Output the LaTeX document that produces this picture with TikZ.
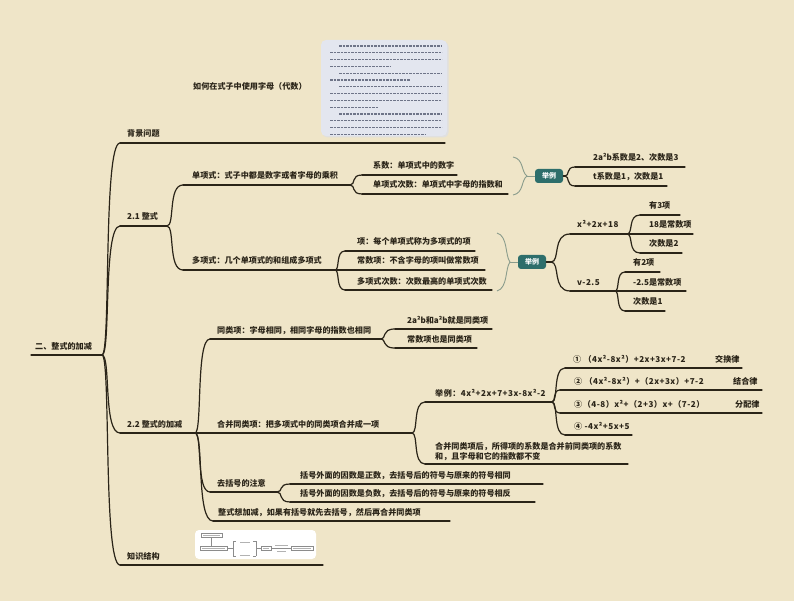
\documentclass[tikz,border=0pt]{standalone}
\usepackage{fontspec}
\setmainfont{Noto Sans CJK SC}
\usetikzlibrary{calc}
\definecolor{bgc}{HTML}{EFE5C8}
\definecolor{lnc}{HTML}{2A2418}
\definecolor{tealc}{HTML}{2D6E6B}
\definecolor{bracec}{HTML}{8A9C8C}
\definecolor{notec}{HTML}{E3E6EF}
\definecolor{notet}{HTML}{6E7488}
\tikzset{
  mmline/.style={draw=lnc,line width=1.2pt,line cap=round},
  mmtext/.style={anchor=base west,inner sep=0pt,text=lnc,font=\fontsize{8.1}{10}\selectfont\bfseries},
  mmform/.style={mmtext,font=\fontsize{8.1}{10}\selectfont\bfseries\addfontfeatures{LetterSpace=6}},
  exbox/.style={fill=tealc,text=white,rounded corners=3pt,minimum width=28pt,minimum height=14pt,inner sep=0pt,font=\fontsize{7}{8}\selectfont\bfseries},
  bracel/.style={draw=bracec,line width=0.9pt},
  notel/.style={draw=notet,line width=1.3pt,dash pattern=on 2.8pt off 0.7pt},
}
\newcommand\mmT[7][mmtext]{%
  \coordinate (#2-l) at (#3,#5);
  \coordinate (#2-r) at (#4,#5);
  \draw[mmline] (#2-l) -- (#2-r);
  \node[#1] (#2) at (#6,#5-6) {#7};}
\newcommand\mmL[2]{%
  \draw[mmline] let \p1=(#1), \p2=(#2) in
    (\p1) .. controls (\x1+0.5*\x2-0.5*\x1,\y1) and (\x1+0.05*\x2-0.05*\x1,\y2) .. (\p2);}
\begin{document}
\begin{tikzpicture}[x=1pt,y=-1pt]
\fill[bgc] (0,0) rectangle (794,601);
\useasboundingbox (0,0) rectangle (794,601);

% note image
\fill[black!12,rounded corners=5pt] (322.5,41.5) rectangle (448.5,137.5);
\fill[notec,rounded corners=5pt] (321,40) rectangle (447,136);
\foreach \r/\a/\b in {0/339/442,1/330/442,2/330/442,3/330/390,4/339/442,5/330/410,6/339/442,7/330/442,8/330/442,9/330/378,10/339/442,11/330/442,12/330/442,13/330/425}
  \draw[notel] (\a,46+6.8*\r) -- (\b,46+6.8*\r);

% structure image
\fill[white,rounded corners=4pt] (195,530) rectangle (316,559);
\begin{scope}[draw=black!45,line width=0.4pt]
  \draw (201,533.5) rectangle (222,537.5);
  \draw (211,537.5) -- (211,546);
  \draw (200,546) rectangle (227,550);
  \draw (227,548) -- (233,548);
  \draw (233,541) -- (233,556) (233,541) -- (236,541) (233,556) -- (236,556);
  \draw (256,541) -- (256,556) (256,541) -- (253,541) (256,556) -- (253,556);
  \draw (256,548) -- (261,548);
  \draw (261,546) rectangle (271,550);
  \draw (271,548) -- (291,548);
  \draw (291,546) rectangle (313,550);
\end{scope}
\begin{scope}[draw=black!30,line width=0.8pt]
  \draw (203,535.5) -- (220,535.5);
  \draw (202,548) -- (225,548);
  \draw (240,542) -- (250,542) (240,555) -- (250,555);
  \draw (263,548) -- (269,548);
  \draw (275,545.5) -- (288,545.5) (277,551) -- (286,551);
  \draw (293,548) -- (311,548);
\end{scope}

% root and level 1
\mmT{root}{31}{102}{355}{35}{二、整式的加减}
\mmT{bg}{120}{445}{143}{127}{背景问题}
\coordinate (bgc-l) at (188,143);
\node[mmtext] (bgc) at (193,90) {如何在式子中使用字母（代数）};
\mmT{s21}{120}{167}{226}{127}{2.1 整式}
\mmT{s22}{120}{195}{433}{127}{2.2 整式的加减}
\mmT{zj}{120}{323}{565}{127}{知识结构}
\mmL{root-r}{bg-l}
\mmL{root-r}{s21-l}
\mmL{root-r}{s22-l}
\mmL{root-r}{zj-l}

% 2.1
\mmT{dan}{183}{350}{185}{192}{单项式：式子中都是数字或者字母的乘积}
\mmT{duo}{183}{335}{270}{192}{多项式：几个单项式的和组成多项式}
\mmL{s21-r}{dan-l}
\mmL{s21-r}{duo-l}
\mmT{xs}{362}{457}{175}{373}{系数：单项式中的数字}
\mmT{cs}{362}{508}{194}{373}{单项式次数：单项式中字母的指数和}
\mmL{dan-r}{xs-l}
\mmL{dan-r}{cs-l}
\mmT{xiang}{345}{475}{251}{357}{项：每个单项式称为多项式的项}
\mmT{csx}{335}{485}{270}{357}{常数项：不含字母的项叫做常数项}
\mmT{dcs}{345}{492}{290}{357}{多项式次数：次数最高的单项式次数}
\mmL{duo-r}{xiang-l}
\mmL{duo-r}{dcs-l}

% brace 1 + example
\coordinate (b1) at (527,176);
\draw[bracel] (513,157) .. controls (524,159) and (521,172) .. (b1) .. controls (521,180) and (524,193) .. (513,195);
\node[exbox] (ex1) at (549,176) {举例};
\draw[bracel] (b1) -- (ex1.west);
\mmT{e1a}{575}{685}{167}{593}{2a²b系数是2、次数是3}
\mmT{e1b}{575}{667}{186}{593}{t系数是1，次数是1}
\coordinate (ex1-r) at (565,176);
\draw[mmline] (ex1.east) -- (ex1-r);
\mmL{ex1-r}{e1a-l}
\mmL{ex1-r}{e1b-l}

% brace 2 + example
\coordinate (b2) at (510,262);
\draw[bracel] (497,233) .. controls (508,236) and (505,256) .. (b2) .. controls (505,268) and (508,288) .. (497,291);
\node[exbox] (ex2) at (532,262) {举例};
\draw[bracel] (b2) -- (ex2.west);
\coordinate (ex2-r) at (551,262);
\draw[mmline] (ex2.east) -- (ex2-r);
\mmT[mmform]{p1}{570}{627}{234}{577}{x²+2x+18}
\mmT[mmform]{p2}{570}{615}{291}{577}{v-2.5}
\mmL{ex2-r}{p1-l}
\mmL{ex2-r}{p2-l}
\mmT{p1a}{640}{680}{215}{649}{有3项}
\mmT{p1b}{627}{693}{234}{649}{18是常数项}
\mmT{p1c}{640}{682}{253}{649}{次数是2}
\mmL{p1-r}{p1a-l}
\mmL{p1-r}{p1c-l}
\mmT{p2a}{625}{660}{272}{633}{有2项}
\mmT{p2b}{615}{686}{291}{633}{-2.5是常数项}
\mmT{p2c}{625}{665}{311}{633}{次数是1}
\mmL{p2-r}{p2a-l}
\mmL{p2-r}{p2c-l}

% 2.2
\mmT{tl}{210}{380}{339}{217}{同类项：字母相同，相同字母的指数也相同}
\mmT{hb}{195}{412}{433}{217}{合并同类项：把多项式中的同类项合并成一项}
\mmT{qk}{210}{277}{492}{217}{去括号的注意}
\mmT{zs}{213}{450}{521}{218}{整式想加减，如果有括号就先去括号，然后再合并同类项}
\mmL{s22-r}{tl-l}
\mmL{s22-r}{qk-l}
\mmL{s22-r}{zs-l}
\mmT{tla}{395}{492}{329}{407}{2a²b和a²b就是同类项}
\mmT{tlb}{395}{477}{348}{407}{常数项也是同类项}
\mmL{tl-r}{tla-l}
\mmL{tl-r}{tlb-l}
\mmT[mmform]{hbe}{425}{552}{402}{435}{举例：4x²+2x+7+3x-8x²-2}
\coordinate (hbn-l) at (425,464);
\coordinate (hbn-r) at (628,464);
\draw[mmline] (hbn-l) -- (hbn-r);
\node[mmtext,anchor=south west,align=left,font=\fontsize{8.1}{10}\selectfont\bfseries] (hbn) at (435,461) {合并同类项后，所得项的系数是合并前同类项的系数\\和，且字母和它的指数都不变};
\mmL{hb-r}{hbe-l}
\mmL{hb-r}{hbn-l}
\mmT[mmform]{s1}{565}{742}{368}{573}{① （4x²-8x²）+2x+3x+7-2}
\node[mmtext] (s1b) at (715,362) {交换律};
\mmT[mmform]{s2}{560}{762}{390}{574}{② （4x²-8x²）+（2x+3x）+7-2}
\node[mmtext] (s2b) at (733,384) {结合律};
\mmT[mmform]{s3}{560}{762}{413}{574}{③（4-8）x²+（2+3）x+（7-2）}
\node[mmtext] (s3b) at (735,407) {分配律};
\mmT[mmform]{s4}{565}{632}{435}{574}{④ -4x²+5x+5}
\mmL{hbe-r}{s1-l}
\mmL{hbe-r}{s2-l}
\mmL{hbe-r}{s3-l}
\mmL{hbe-r}{s4-l}
\mmT{qka}{290}{543}{484}{300}{括号外面的因数是正数，去括号后的符号与原来的符号相同}
\mmT{qkb}{290}{535}{502}{300}{括号外面的因数是负数，去括号后的符号与原来的符号相反}
\mmL{qk-r}{qka-l}
\mmL{qk-r}{qkb-l}
\end{tikzpicture}
\end{document}
